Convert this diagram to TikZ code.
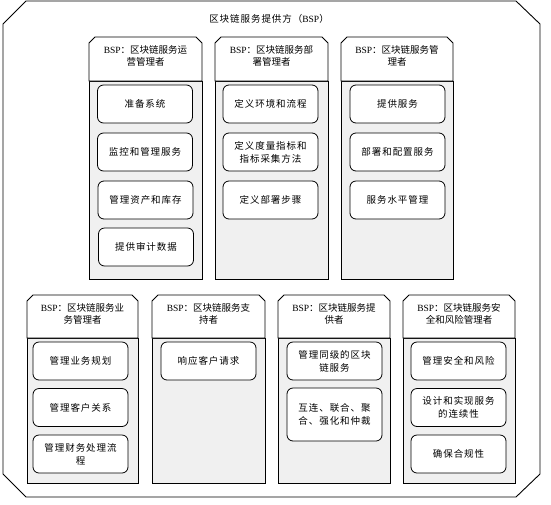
\documentclass[tikz,border=0pt]{standalone}
\usepackage{fontspec}
\setmainfont{Noto Sans CJK SC}
\newfontfamily\spacedcjk[LetterSpace=10]{Noto Sans CJK SC}
\newfontfamily\latinserif{Liberation Serif}
\newcommand\bspname{{\latinserif BSP}}
\tikzset{
  outerline/.style={draw=black, line width=0.9pt},
  bodyfill/.style={fill=black!6},
  frameline/.style={draw=black, line width=0.8pt},
  itembox/.style={draw=black, line width=0.8pt, fill=white, rounded corners=6pt,
    align=center, font=\spacedcjk\fontsize{9.5}{13}\selectfont, inner sep=1pt,
    minimum width=95pt, minimum height=38pt},
  headtext/.style={align=center, font=\fontsize{9.5}{12.5}\selectfont, inner sep=0pt},
  titletext/.style={align=center, font=\spacedcjk\fontsize{9.5}{12}\selectfont, inner sep=0pt},
}
% #1 x1, #2 x2, #3 ytop, #4 ymid, #5 ybot
\newcommand\lanebox[5]{%
  \fill[bodyfill] (#1,#4) rectangle (#2,#5);
  \draw[frameline] (#1,#4) rectangle (#2,#5);
  \draw[frameline, fill=white] (#1,#4) -- (#1,#3+6) -- (#1+6,#3) -- (#2-6,#3) -- (#2,#3+6) -- (#2,#4) -- cycle;
}
\begin{document}
\begin{tikzpicture}[x=1pt, y=-1pt]
\useasboundingbox (0,0) rectangle (551,504);
% outer frame
\draw[outerline] (3,24) -- (26,1) -- (516,1) -- (540,24) -- (540,474) -- (516,497) -- (26,497) -- (3,474) -- cycle;
\node[titletext] (title) at (269,19) {区块链服务提供方（\bspname）};

% top row lanes
\lanebox{89}{202}{37}{81}{279}
\lanebox{215}{328}{37}{81}{279}
\lanebox{341}{453}{37}{81}{279}
\node[headtext] (h1) at (145.5,56) {\bspname：区块链服务运\\营管理者};
\node[headtext] (h2) at (271.5,56) {\bspname：区块链服务部\\署管理者};
\node[headtext] (h3) at (397,56) {\bspname：区块链服务管\\理者};

\node[itembox] (a1) at (145,104) {准备系统};
\node[itembox] (a2) at (145,152) {监控和管理服务};
\node[itembox] (a3) at (145.5,200) {管理资产和库存};
\node[itembox] (a4) at (146,247) {提供审计数据};

\node[itembox] (b1) at (270.5,104) {定义环境和流程};
\node[itembox] (b2) at (270.5,152) {定义度量指标和\\指标采集方法};
\node[itembox] (b3) at (270.5,200) {定义部署步骤};

\node[itembox] (c1) at (397.5,104) {提供服务};
\node[itembox] (c2) at (397.5,152) {部署和配置服务};
\node[itembox] (c3) at (397.5,200) {服务水平管理};

% bottom row lanes
\lanebox{27}{138}{295}{338}{483}
\lanebox{152}{265}{295}{338}{483}
\lanebox{278}{390}{295}{338}{483}
\lanebox{403}{515}{295}{338}{483}
\node[headtext] (h4) at (82.5,314) {\bspname：区块链服务业\\务管理者};
\node[headtext] (h5) at (208.5,314) {\bspname：区块链服务支\\持者};
\node[headtext] (h6) at (334,314) {\bspname：区块链服务提\\供者};
\node[headtext] (h7) at (459,314) {\bspname：区块链服务安\\全和风险管理者};

\node[itembox] (d1) at (80.5,361) {管理业务规划};
\node[itembox] (d2) at (80.5,407.5) {管理客户关系};
\node[itembox] (d3) at (80.5,454) {管理财务处理流\\程};

\node[itembox] (e1) at (208.5,361) {响应客户请求};

\node[itembox] (f1) at (334.5,361) {管理同级的区块\\链服务};
\node[itembox, minimum height=53pt] (f2) at (334.5,414.5) {互连、联合、聚\\合、强化和仲裁};

\node[itembox] (g1) at (458.5,361) {管理安全和风险};
\node[itembox] (g2) at (458.5,407.5) {设计和实现服务\\的连续性};
\node[itembox] (g3) at (458.5,454) {确保合规性};
\end{tikzpicture}
\end{document}
